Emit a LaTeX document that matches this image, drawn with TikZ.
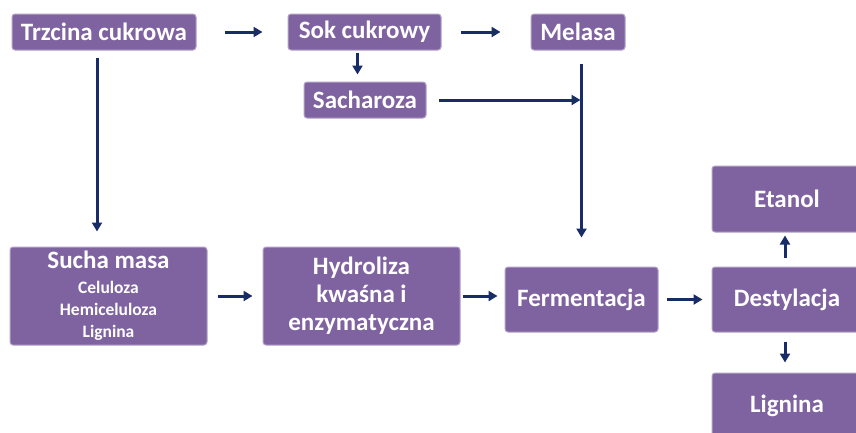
\documentclass[tikz,border=0pt]{standalone}
\usepackage{fontspec}
\setmainfont{Carlito}
\usetikzlibrary{arrows.meta,positioning,calc}
\definecolor{boxpurple}{RGB}{127,99,161}
\definecolor{arrnavy}{RGB}{24,44,104}
\newcommand{\subtxt}{\fontsize{17.5}{22}\selectfont}

\begin{document}
\begin{tikzpicture}[x=1pt,y=-1pt,
      box/.style={fill=boxpurple,draw=boxpurple!60!white,line width=1pt,rounded corners=3pt,
        text=white,font=\bfseries\fontsize{25}{28}\selectfont,align=center,inner sep=0pt},
      arr/.style={-{Triangle[length=9pt,width=10pt]},line width=3pt,draw=arrnavy}
    ]
      \useasboundingbox (0,0) rectangle (856,432);
      \clip (0,0) rectangle (856,432);
      % top row
      \node[box,minimum width=184,minimum height=36] (trzcina) at (104,32) {Trzcina cukrowa};
      \node[box,minimum width=153,minimum height=36] (sok) at (364.5,32) {Sok cukrowy};
      \node[box,minimum width=94,minimum height=36] (melasa) at (578,32) {Melasa};
      \node[box,minimum width=122,minimum height=36] (sacharoza) at (365,100) {Sacharoza};
      % bottom row
      \node[box,minimum width=197,minimum height=98] (sucha) at (108.5,296)
        {Sucha masa\\[-3pt]\subtxt Celuloza\\[-6pt]\subtxt Hemiceluloza\\[-6pt]\subtxt Lignina};
      \node[box,minimum width=197,minimum height=98] (hydroliza) at (361.5,296) {Hydroliza\\kwaśna i\\enzymatyczna};
      \node[box,minimum width=153,minimum height=65] (ferm) at (581.5,299.5) {Fermentacja};
      \node[box,minimum width=150,minimum height=65] (dest) at (787,299.5) {Destylacja};
      \node[box,minimum width=150,minimum height=66] (etanol) at (787,199) {Etanol};
      \node[box,minimum width=150,minimum height=66] (lignina) at (787,406) {Lignina};
      % connectors
      \draw[arr,shorten <=28pt,shorten >=25pt] (trzcina) -- (sok);
      \draw[arr,shorten <=19pt,shorten >=30pt] (sok) -- (melasa);
      \draw[arr,shorten <=2pt,shorten >=7pt] ([xshift=-7pt]sok.south) -- ([xshift=-7pt]sok.south |- sacharoza.north);
      \draw[arr,shorten <=7pt,shorten >=15pt] ([xshift=-7pt]trzcina.south) -- ([xshift=-7pt]trzcina.south |- sucha.north);
      \draw[arr,shorten <=13pt,shorten >=29pt] (melasa.south -| ferm.north) -- (ferm.north);
      \draw[arr,shorten <=12pt,shorten >=1pt] (sacharoza.east) -- (sacharoza.east -| ferm.north);
      \draw[arr,shorten <=10pt,shorten >=10pt] (sucha.east) -- (sucha.east -| hydroliza.west);
      \draw[arr,shorten <=2pt,shorten >=7pt] (hydroliza.east) -- (hydroliza.east -| ferm.west);
      \draw[arr,shorten <=8pt,shorten >=9pt] (ferm) -- (dest);
      \draw[arr,shorten <=9pt,shorten >=3pt] ([xshift=-2pt]dest.north) -- ([xshift=-2pt]etanol.south);
      \draw[arr,shorten <=9pt,shorten >=10pt] ([xshift=-2pt]dest.south) -- ([xshift=-2pt]lignina.north);
    \end{tikzpicture}
\end{document}
